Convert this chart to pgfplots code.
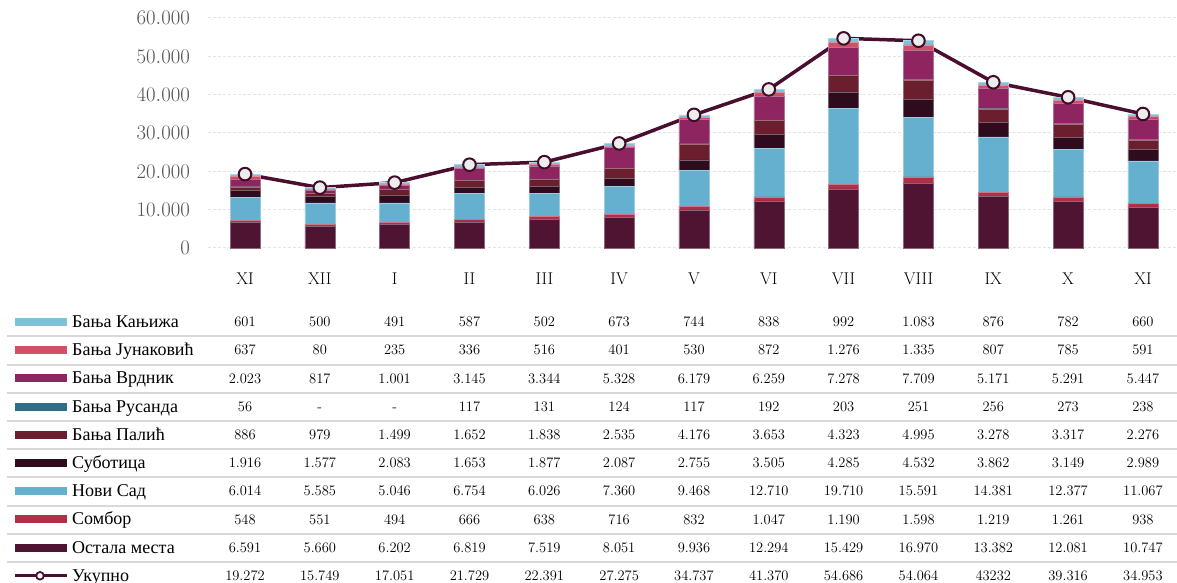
\documentclass[border=0pt]{standalone}
\usepackage{fontspec}
\usepackage{pgfplots}
\usepackage{pgfplotstable}
\pgfplotsset{compat=1.18}
\newfontfamily\cyr{Liberation Serif}
\definecolor{cKan}{HTML}{80C0D8}
\definecolor{cJun}{HTML}{D05068}
\definecolor{cVrd}{HTML}{8E2460}
\definecolor{cRus}{HTML}{2E6E88}
\definecolor{cPal}{HTML}{6A1E2E}
\definecolor{cSub}{HTML}{2E0C1E}
\definecolor{cNS}{HTML}{64B0CE}
\definecolor{cSom}{HTML}{B0304A}
\definecolor{cOst}{HTML}{4E1432}
\definecolor{cTot}{HTML}{4A0F2E}
\definecolor{cSep}{HTML}{D8D8D8}

\pgfplotstableread{
x ost som ns sub pal rus vrd jun kan tot
0 6591 548 6014 1916 886 56 2023 637 601 19272
1 5660 551 5585 1577 979 0 817 80 500 15749
2 6202 494 5046 2083 1499 0 1001 235 491 17051
3 6819 666 6754 1653 1652 117 3145 336 587 21729
4 7519 638 6026 1877 1838 131 3344 516 502 22391
5 8051 716 7360 2087 2535 124 5328 401 673 27275
6 9936 832 9468 2755 4176 117 6179 530 744 34737
7 12294 1047 12710 3505 3653 192 6259 872 838 41370
8 15429 1190 19710 4285 4323 203 7278 1276 992 54686
9 16970 1598 15591 4532 4995 251 7709 1335 1083 54064
10 13382 1219 14381 3862 3278 256 5171 807 876 43232
11 12081 1261 12377 3149 3317 273 5291 785 782 39316
12 10747 938 11067 2989 2276 238 5447 591 660 34953
}\data

\begin{document}
\begin{tikzpicture}
\begin{axis}[
  at={(207.6pt,335pt)}, anchor=south west,
  scale only axis, width=969pt, height=230pt,
  xmin=-0.5, xmax=12.45, ymin=0, ymax=60000,
  clip=false,
  axis line style={draw=none},
  major tick length=0pt,
  ytick={0,10000,...,60000},
  scaled y ticks=false,
  /pgf/number format/1000 sep={.},
  ymajorgrids,
  major grid style={draw=gray!22, dash pattern=on 3pt off 2pt, line width=1pt},
  yticklabel style={font=\fontsize{20}{24}\selectfont, text=black!68, anchor=east, inner sep=0pt, xshift=-17.6pt},
  xtick={0,...,12},
  xticklabels={XI,XII,I,II,III,IV,V,VI,VII,VIII,IX,X,XI},
  xticklabel style={font=\fontsize{17}{20}\selectfont, text=black, anchor=base, inner sep=0pt, yshift=-37pt},
  ybar stacked, bar width=30pt,
]
\addplot[fill=cOst, draw=cOst!65!white, line width=0.5pt] table[x=x,y=ost]{\data};
\addplot[fill=cSom, draw=cSom!65!white, line width=0.5pt] table[x=x,y=som]{\data};
\addplot[fill=cNS, draw=cNS!65!white, line width=0.5pt] table[x=x,y=ns]{\data};
\addplot[fill=cSub, draw=cSub!65!white, line width=0.5pt] table[x=x,y=sub]{\data};
\addplot[fill=cPal, draw=cPal!65!white, line width=0.5pt] table[x=x,y=pal]{\data};
\addplot[fill=cRus, draw=none] table[x=x,y=rus]{\data};
\addplot[fill=cVrd, draw=cVrd!65!white, line width=0.5pt] table[x=x,y=vrd]{\data};
\addplot[fill=cJun, draw=cJun!65!white, line width=0.5pt] table[x=x,y=jun]{\data};
\addplot[fill=cKan, draw=cKan!65!white, line width=0.5pt] table[x=x,y=kan]{\data};
\addplot[stack plots=false, sharp plot, draw=cTot, line width=3.5pt,
  mark=*, mark size=6.3pt,
  mark options={fill=black!7, draw=cTot!85!black, line width=2pt}]
  table[x=x,y=tot]{\data};
\end{axis}

\begin{scope}[x=1pt,y=1pt]
% separators
\foreach \k in {0,...,8} {
  \draw[cSep, line width=2pt] (7,{246.5-28.2*\k}) -- (1177,{246.5-28.2*\k});
}
% legend swatches and names
\foreach \col [count=\r from 0] in {cKan,cJun,cVrd,cRus,cPal,cSub,cNS,cSom,cOst} {
  \fill[\col] (15,{261-28.2*\r-4}) rectangle (67,{261-28.2*\r+4});
}
\draw[cTot, line width=3pt] (15,{261-28.2*9}) -- (67,{261-28.2*9});
\draw[cTot, line width=1.8pt, fill=white] (40,{261-28.2*9}) circle (3.8);
\foreach \nm [count=\r from 0] in {Бања Кањижа,Бања Јунаковић,Бања Врдник,Бања Русанда,Бања Палић,Суботица,Нови Сад,Сомбор,Остала места,Укупно} {
  \node[anchor=base west, inner sep=0pt, font=\cyr\fontsize{18}{21}\selectfont] at (72,{261-28.2*\r-5.6}) {\nm};
}
% table values
\foreach \row [count=\r from 0] in {
 {601,500,491,587,502,673,744,838,992,1.083,876,782,660},
 {637,80,235,336,516,401,530,872,1.276,1.335,807,785,591},
 {2.023,817,1.001,3.145,3.344,5.328,6.179,6.259,7.278,7.709,5.171,5.291,5.447},
 {56,-,-,117,131,124,117,192,203,251,256,273,238},
 {886,979,1.499,1.652,1.838,2.535,4.176,3.653,4.323,4.995,3.278,3.317,2.276},
 {1.916,1.577,2.083,1.653,1.877,2.087,2.755,3.505,4.285,4.532,3.862,3.149,2.989},
 {6.014,5.585,5.046,6.754,6.026,7.360,9.468,12.710,19.710,15.591,14.381,12.377,11.067},
 {548,551,494,666,638,716,832,1.047,1.190,1.598,1.219,1.261,938},
 {6.591,5.660,6.202,6.819,7.519,8.051,9.936,12.294,15.429,16.970,13.382,12.081,10.747},
 {19.272,15.749,17.051,21.729,22.391,27.275,34.737,41.370,54.686,54.064,43232,39.316,34.953}} {
  \foreach \v [count=\c from 0] in \row {
    \node[anchor=base, inner sep=0pt, font=\fontsize{14.5}{17}\selectfont] at ({245+74.826*\c},{261-28.2*\r-4.65}) {\v};
  }
}
\pgfresetboundingbox
\useasboundingbox (0,0) rectangle (1177,583);
\end{scope}
\end{tikzpicture}
\end{document}
